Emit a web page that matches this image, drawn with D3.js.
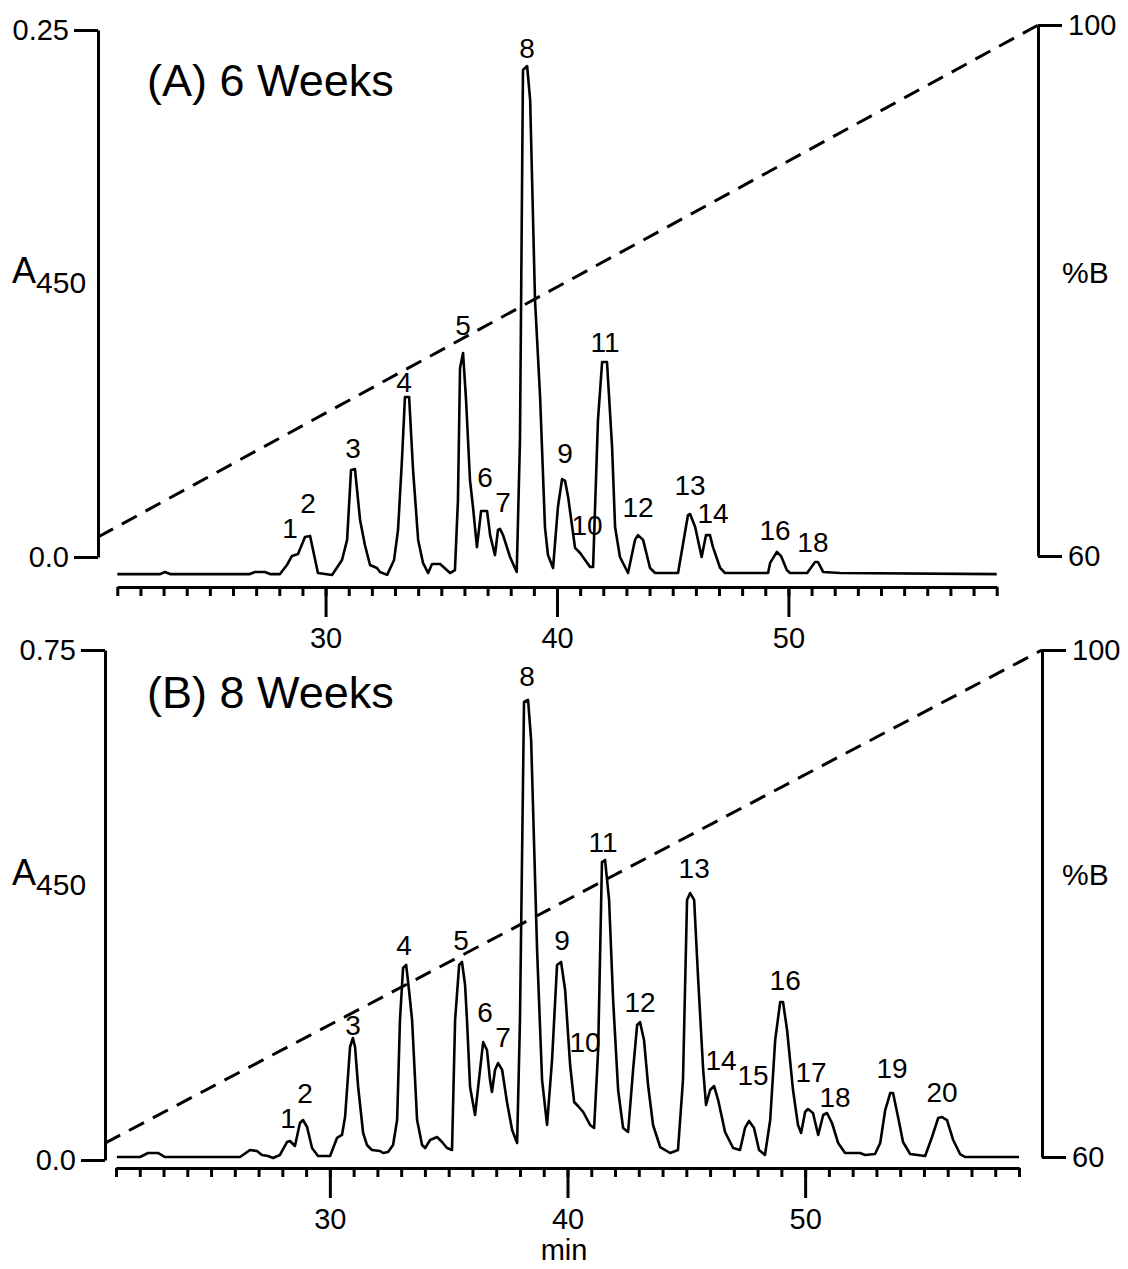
<!DOCTYPE html>
<html>
<head>
<meta charset="utf-8">
<script src="https://cdn.jsdelivr.net/npm/d3@7"></script>
<style>
  html, body { margin: 0; padding: 0; background: #fff; }
  svg { display: block; }
  text { font-family: "Liberation Sans", Arial, Helvetica, sans-serif; fill: #000; }
</style>
</head>
<body>
<div id="chart"></div>
<script>
// Time (min) vs A450
const traceA = [
  [21.0, -0.0081], [22.85, -0.0081], [23.06, -0.0071], [23.28, -0.0081], [26.73, -0.0081],
  [26.95, -0.0071], [27.38, -0.0071], [27.6, -0.0081], [28.03, -0.0081], [28.33, -0.0038],
  [28.55, 0.0005], [28.81, 0.0014], [29.11, 0.0095], [29.33, 0.0100], [29.67, -0.0076],
  [30.28, -0.0085], [30.71, -0.0014], [30.93, 0.0081], [31.10, 0.0413], [31.27, 0.0417],
  [31.49, 0.0176], [31.70, 0.0057], [31.92, -0.0038], [32.22, -0.0052], [32.35, -0.0071],
  [32.66, -0.0085], [32.96, -0.0014], [33.13, 0.0128], [33.30, 0.0460], [33.43, 0.0759],
  [33.61, 0.0759], [33.78, 0.0413], [34.00, 0.0081], [34.21, -0.0028], [34.43, -0.0076],
  [34.60, -0.0033], [34.95, -0.0033], [35.38, -0.0076], [35.59, -0.0062], [35.72, 0.0270],
  [35.81, 0.0897], [35.94, 0.0968], [36.07, 0.0745], [36.24, 0.0365], [36.37, 0.0237],
  [36.54, 0.0047], [36.72, 0.0218], [36.98, 0.0218], [37.11, 0.0104], [37.32, 0.0009],
  [37.45, 0.0128], [37.54, 0.0133], [37.67, 0.0104], [37.97, 0.0], [38.26, -0.0071],
  [38.40, 0.0555], [38.53, 0.2310], [38.71, 0.2329], [38.84, 0.2168], [39.05, 0.1219],
  [39.27, 0.0759], [39.48, 0.0142], [39.61, 0.0009], [39.83, -0.0052], [40.04, 0.0237],
  [40.22, 0.0370], [40.35, 0.0361], [40.48, 0.0285], [40.78, 0.0043], [41.00, 0.0019],
  [41.43, -0.0047], [41.56, -0.0047], [41.77, 0.0650], [41.95, 0.0925], [42.16, 0.0925],
  [42.38, 0.0522], [42.51, 0.0142], [42.72, 0.0], [43.07, -0.0076], [43.37, 0.0081],
  [43.50, 0.0104], [43.72, 0.0081], [44.02, -0.0052], [44.24, -0.0076], [45.23, -0.0076],
  [45.66, 0.0199], [45.75, 0.0204], [45.97, 0.0142], [46.25, 0.0], [46.44, 0.0104],
  [46.61, 0.0104], [46.74, 0.0047], [47.05, -0.0052], [47.26, -0.0076], [49.12, -0.0076],
  [49.21, -0.0028], [49.50, 0.0024], [49.68, 0.0005], [49.93, -0.0062], [50.07, -0.0076],
  [50.81, -0.0076], [51.15, -0.0024], [51.28, -0.0024], [51.50, -0.0071], [52.23, -0.0076],
  [59.0, -0.0081]
];

const traceB = [
  [21.04, 0.0044], [22.01, 0.0044], [22.35, 0.0103], [22.77, 0.0103], [23.06, 0.0044],
  [26.22, 0.0044], [26.64, 0.0147], [26.93, 0.0132], [27.14, 0.0074], [27.40, 0.0059],
  [27.61, 0.0029], [27.90, 0.0074], [28.20, 0.0265], [28.32, 0.0279], [28.53, 0.0206],
  [28.74, 0.0544], [28.87, 0.0588], [29.04, 0.0485], [29.25, 0.0176], [29.50, 0.0059],
  [30.01, 0.0059], [30.30, 0.0324], [30.51, 0.0368], [30.64, 0.0632], [30.85, 0.1662],
  [30.97, 0.1794], [31.06, 0.1662], [31.19, 0.1074], [31.40, 0.0397], [31.56, 0.0221],
  [31.77, 0.0147], [32.11, 0.0132], [32.24, 0.0103], [32.45, 0.0118], [32.66, 0.0221],
  [32.83, 0.0588], [32.95, 0.2059], [33.08, 0.2824], [33.21, 0.2868], [33.33, 0.2500],
  [33.46, 0.2059], [33.67, 0.0588], [33.88, 0.0221], [34.01, 0.0176], [34.22, 0.0294],
  [34.51, 0.0338], [34.72, 0.0265], [34.93, 0.0176], [35.14, 0.0147], [35.27, 0.2059],
  [35.44, 0.2868], [35.56, 0.2912], [35.69, 0.2574], [35.77, 0.2059], [35.90, 0.1074],
  [36.11, 0.0662], [36.32, 0.1324], [36.45, 0.1735], [36.61, 0.1618], [36.74, 0.1176],
  [36.82, 0.1000], [36.95, 0.1324], [37.08, 0.1426], [37.25, 0.1324], [37.46, 0.0838],
  [37.67, 0.0441], [37.88, 0.0250], [38.00, 0.2059], [38.17, 0.6735], [38.34, 0.6765],
  [38.47, 0.6176], [38.72, 0.3088], [38.93, 0.1176], [39.14, 0.0515], [39.35, 0.1471],
  [39.56, 0.2868], [39.73, 0.2912], [39.90, 0.2500], [40.11, 0.1397], [40.28, 0.0853],
  [40.44, 0.0794], [40.66, 0.0706], [40.95, 0.0515], [41.12, 0.0471], [41.29, 0.1618],
  [41.45, 0.4382], [41.58, 0.4412], [41.75, 0.3824], [41.92, 0.2353], [42.13, 0.1029],
  [42.34, 0.0471], [42.55, 0.0412], [42.76, 0.1324], [42.93, 0.1985], [43.05, 0.2029],
  [43.22, 0.1765], [43.39, 0.1103], [43.60, 0.0515], [43.90, 0.0191], [44.32, 0.0103],
  [44.65, 0.0147], [44.86, 0.1176], [45.03, 0.3824], [45.16, 0.3926], [45.33, 0.3824],
  [45.50, 0.2647], [45.71, 0.1324], [45.83, 0.0809], [46.00, 0.1029], [46.17, 0.1088],
  [46.34, 0.0882], [46.63, 0.0412], [46.97, 0.0176], [47.26, 0.0147], [47.47, 0.0471],
  [47.64, 0.0574], [47.85, 0.0471], [48.06, 0.0147], [48.31, 0.0074], [48.53, 0.0588],
  [48.74, 0.1765], [48.95, 0.2324], [49.07, 0.2324], [49.24, 0.1912], [49.49, 0.1029],
  [49.70, 0.0515], [49.83, 0.0397], [50.00, 0.0706], [50.12, 0.0750], [50.33, 0.0691],
  [50.55, 0.0368], [50.76, 0.0662], [50.92, 0.0691], [51.13, 0.0544], [51.39, 0.0250],
  [51.68, 0.0103], [52.31, 0.0103], [52.52, 0.0074], [52.94, 0.0088], [53.16, 0.0250],
  [53.37, 0.0735], [53.58, 0.0985], [53.70, 0.0985], [53.91, 0.0632], [54.12, 0.0265],
  [54.42, 0.0088], [55.05, 0.0059], [55.34, 0.0338], [55.60, 0.0618], [55.76, 0.0632],
  [55.97, 0.0588], [56.23, 0.0294], [56.52, 0.0088], [56.73, 0.0044], [59.0, 0.0044]
];

// Peak numbers with where their labels sit (min, A450)
const peaksA = [
  ['1', 28.46, 0.0090], ['2', 29.24, 0.0209], ['3', 31.19, 0.0470], ['4', 33.39, 0.0783],
  ['5', 35.94, 0.1053], ['6', 36.89, 0.0332], ['7', 37.67, 0.0213], ['8', 38.71, 0.2367],
  ['9', 40.35, 0.0446], ['10', 41.30, 0.0104], ['11', 42.08, 0.0972], ['12', 43.50, 0.0190],
  ['13', 45.75, 0.0294], ['14', 46.74, 0.0161], ['16', 49.42, 0.0081], ['18', 51.06, 0.0024]
];
const peaksB = [
  ['1', 28.24, 0.0471], ['2', 28.95, 0.0838], ['3', 30.97, 0.1838], ['4', 33.12, 0.3015],
  ['5', 35.52, 0.3088], ['6', 36.53, 0.2029], ['7', 37.29, 0.1662], ['8', 38.30, 0.6971],
  ['9', 39.77, 0.3088], ['10', 40.74, 0.1588], ['11', 41.50, 0.4529], ['12', 43.05, 0.2176],
  ['13', 45.33, 0.4147], ['14', 46.46, 0.1324], ['15', 47.81, 0.1103], ['16', 49.16, 0.2500],
  ['17', 50.25, 0.1140], ['18', 51.26, 0.0780], ['19', 53.66, 0.1206], ['20', 55.76, 0.0853]
];

// Solvent gradient (min, %B)
const gradientA = [[20.17, 61.43], [60.79, 100]];
const gradientB = [[20.54, 61.10], [59.97, 100]];

const timeDomain = [21, 59];
const minorTicks = d3.range(21, 60);
const majorTicks = [30, 40, 50];
const percentTicks = [60, 100];

const width = 1128, height = 1269;
const svg = d3.select('#chart').append('svg')
  .attr('width', width)
  .attr('height', height)
  .attr('viewBox', `0 0 ${width} ${height}`);
svg.append('rect').attr('width', width).attr('height', height).attr('fill', '#fff');

function drawPanel(p) {
  const g = svg.append('g');
  const x = d3.scaleLinear().domain(timeDomain).range(p.xRange);
  const y = d3.scaleLinear().domain([0, p.yMax]).range(p.yRange);
  const y2 = d3.scaleLinear().domain([60, 100]).range(p.y2Range);

  // left absorbance axis, only the two end ticks
  g.append('g')
    .attr('class', 'axis')
    .attr('transform', `translate(${p.leftX},0)`)
    .call(d3.axisLeft(y).tickValues([0, p.yMax]).tickSize(24).tickSizeOuter(0).tickPadding(5)
      .tickFormat(d => d === 0 ? '0.0' : String(p.yMax)));

  // right %B axis
  g.append('g')
    .attr('class', 'axis')
    .attr('transform', `translate(${p.rightX},0)`)
    .call(d3.axisRight(y2).tickValues(percentTicks).tickSize(24).tickSizeOuter(0).tickPadding(6));

  // time axis: minute ticks plus long ticks every 10 min
  g.append('g')
    .attr('class', 'axis')
    .attr('transform', `translate(0,${p.axisY})`)
    .call(d3.axisBottom(x).tickValues(minorTicks).tickSize(9).tickSizeOuter(0).tickFormat(''));
  g.append('g')
    .attr('class', 'axis major')
    .attr('transform', `translate(0,${p.axisY})`)
    .call(d3.axisBottom(x).tickValues(majorTicks).tickSize(30).tickSizeOuter(0).tickPadding(10));

  g.selectAll('.axis path, .axis line')
    .attr('stroke', '#000')
    .attr('stroke-width', 3);
  g.selectAll('.axis text')
    .attr('font-size', 29)
    .style('font-family', '"Liberation Sans", Arial, sans-serif');

  // gradient
  g.append('path')
    .datum(p.gradient)
    .attr('fill', 'none')
    .attr('stroke', '#000')
    .attr('stroke-width', 3)
    .attr('stroke-dasharray', '17,10')
    .attr('d', d3.line().x(d => x(d[0])).y(d => y2(d[1])));

  // chromatogram
  g.append('path')
    .datum(p.trace)
    .attr('fill', 'none')
    .attr('stroke', '#000')
    .attr('stroke-width', 2.6)
    .attr('stroke-linejoin', 'round')
    .attr('d', d3.line().x(d => x(d[0])).y(d => y(d[1])));

  g.selectAll('text.peak')
    .data(p.peaks)
    .join('text')
    .attr('class', 'peak')
    .attr('x', d => x(d[1]))
    .attr('y', d => y(d[2]))
    .attr('text-anchor', 'middle')
    .attr('font-size', 28)
    .text(d => d[0]);

  g.append('text')
    .attr('x', 147)
    .attr('y', p.titleY)
    .attr('font-size', 45)
    .text(p.title);

  const yl = g.append('text')
    .attr('x', 12)
    .attr('y', p.labelY)
    .attr('font-size', 36);
  yl.append('tspan').text('A');
  yl.append('tspan').attr('font-size', 30).attr('dy', 10).text('450');

  g.append('text')
    .attr('x', 1062)
    .attr('y', p.labelY)
    .attr('font-size', 30)
    .text('%B');
}

drawPanel({
  title: '(A) 6 Weeks', titleY: 96, labelY: 283,
  trace: traceA, peaks: peaksA, gradient: gradientA, yMax: 0.25,
  xRange: [117.3, 996.7], yRange: [557, 30], y2Range: [556, 25],
  leftX: 98, rightX: 1038, axisY: 587
});

drawPanel({
  title: '(B) 8 Weeks', titleY: 708, labelY: 885,
  trace: traceB, peaks: peaksB, gradient: gradientB, yMax: 0.75,
  xRange: [116, 1019], yRange: [1160, 650], y2Range: [1157, 650],
  leftX: 105, rightX: 1042, axisY: 1168
});

svg.append('text')
  .attr('x', 564)
  .attr('y', 1260)
  .attr('text-anchor', 'middle')
  .attr('font-size', 29)
  .text('min');
</script>
</body>
</html>
